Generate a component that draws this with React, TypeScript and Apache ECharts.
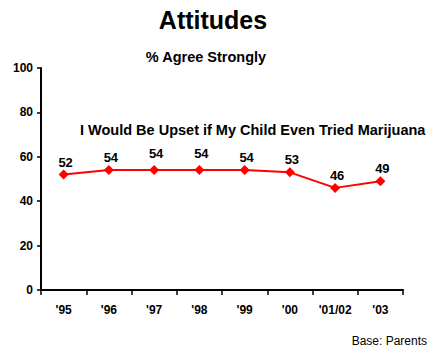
import React, { useEffect, useRef } from "react";
import * as echarts from "echarts";

const categories = ["'95", "'96", "'97", "'98", "'99", "'00", "'01/02", "'03"];
const upsetValues = [52, 54, 54, 54, 54, 53, 46, 49];
const labelLift = [0, 0, 4, 4, 0, 0, 0, 0];

const FONT = "Liberation Sans, Arial, sans-serif";

export default function App() {
  const ref = useRef<HTMLDivElement>(null);

  useEffect(() => {
    if (!ref.current) return;
    const chart = echarts.init(ref.current, null, { renderer: "svg" });
    chart.setOption({
      animation: false,
      backgroundColor: "#ffffff",
      textStyle: { fontFamily: FONT },
      title: [
        {
          text: "Attitudes",
          left: 213,
          top: 7,
          padding: 0,
          textAlign: "center",
          textStyle: { fontSize: 25, fontWeight: "bold", color: "#000", fontFamily: FONT },
        },
        {
          text: "% Agree Strongly",
          left: 206,
          top: 49,
          padding: 0,
          textAlign: "center",
          textStyle: { fontSize: 14.5, fontWeight: "bold", color: "#000", fontFamily: FONT },
        },
        {
          text: "I Would Be Upset if My Child Even Tried Marijuana",
          left: 80,
          top: 122,
          padding: 0,
          textStyle: { fontSize: 14.5, fontWeight: "bold", color: "#000", fontFamily: FONT },
        },
        {
          text: "Base: Parents",
          right: 3,
          top: 335,
          padding: 0,
          textStyle: { fontSize: 12, fontWeight: "normal", color: "#000", fontFamily: FONT },
        },
      ],
      grid: { left: 41, right: 27, top: 68, bottom: 59, containLabel: false },
      xAxis: {
        type: "category",
        data: categories,
        boundaryGap: true,
        axisLine: { lineStyle: { color: "#000", width: 2 } },
        axisTick: { show: true, length: 5, lineStyle: { color: "#000", width: 1.5 } },
        axisLabel: { color: "#000", fontWeight: "bold", fontSize: 12, margin: 14, fontFamily: FONT },
      },
      yAxis: {
        type: "value",
        min: 0,
        max: 100,
        interval: 20,
        splitLine: { show: false },
        axisLine: { show: true, lineStyle: { color: "#000", width: 2 } },
        axisTick: { show: true, length: 4, lineStyle: { color: "#000", width: 1.5 } },
        axisLabel: { color: "#000", fontWeight: "bold", fontSize: 12, margin: 8, fontFamily: FONT },
      },
      series: [
        {
          type: "line",
          data: upsetValues.map((v, i) => ({
            value: v,
            label: { distance: 1 + labelLift[i], offset: [2, 0] },
          })),
          symbol: "diamond",
          symbolSize: 10,
          lineStyle: { color: "#ff0000", width: 2 },
          itemStyle: { color: "#ff0000" },
          label: {
            show: true,
            position: "top",
            color: "#000",
            fontWeight: "bold",
            fontSize: 13,
            fontFamily: FONT,
          },
        },
      ],
    });
    return () => chart.dispose();
  }, []);

  return (
    <div
      ref={ref}
      style={{ position: "fixed", left: 0, top: 0, width: 430, height: 349 }}
    />
  );
}
